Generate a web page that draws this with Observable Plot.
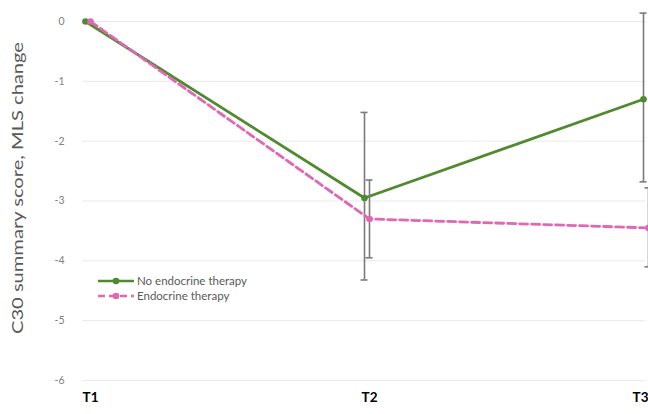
<!DOCTYPE html>
<html>
<head>
<meta charset="utf-8">
<script src="https://cdn.jsdelivr.net/npm/d3@7"></script>
<script src="https://cdn.jsdelivr.net/npm/@observablehq/plot@0.6"></script>
<style>
  html, body { margin: 0; padding: 0; background: #fff; }
  #wrap { position: relative; width: 648px; height: 414px; overflow: hidden; font-family: Lato, "Open Sans", sans-serif; }
  #legend { position: absolute; left: 97px; top: 273px; font-size: 11.5px; color: #595959; line-height: 15px; }
  #legend div { display: flex; align-items: center; white-space: nowrap; }
  #legend svg { margin-right: 2px; }
</style>
</head>
<body>
<div id="wrap"></div>
<script>
const timepoints = ["T1", "T2", "T3"];
const seriesNames = ["No endocrine therapy", "Endocrine therapy"];
const noEndocrine = [0, -2.95, -1.3];
const endocrine = [0, -3.3, -3.45];
const noEndocrineLow = [null, -4.32, -2.68];
const noEndocrineHigh = [null, -1.52, 0.14];
const endocrineLow = [null, -3.95, -4.1];
const endocrineHigh = [null, -2.65, -2.78];
const yTicks = [0, -1, -2, -3, -4, -5, -6];

const colors = ["#4f8a2e", "#e067b3"];
const offsets = [-2, 3];

const rows = [];
[[noEndocrine, noEndocrineLow, noEndocrineHigh], [endocrine, endocrineLow, endocrineHigh]].forEach((s, si) => {
  timepoints.forEach((t, i) => {
    rows.push({series: seriesNames[si], si, t, idx: i + 1, v: s[0][i], lo: s[1][i], hi: s[2][i]});
  });
});
const bars = rows.filter(d => d.lo != null);
const caps = bars.flatMap(d => [{...d, c: d.lo}, {...d, c: d.hi}]);

const xTickStyle = {tickSize: 0, tickPadding: 12, tickFormat: d => timepoints[d - 1], fontWeight: "bold", fontSize: 13.5, fill: "#000", label: null};
const marks = [
  Plot.gridY(yTicks, {stroke: "#e9e9e9", strokeOpacity: 1, strokeWidth: 1, insetLeft: -5}),
  Plot.axisY(yTicks, {tickSize: 0, tickPadding: 23, fill: "#808080", fontSize: 10.5, tickFormat: d => d === 0 ? "0" : "-" + Math.abs(d),
    label: null}),
  Plot.axisX([1, 2], {...xTickStyle, dx: 3}),
  Plot.axisX([3], {...xTickStyle, textAnchor: "end", dx: 3})
];
[0, 1].forEach(si => {
  const data = rows.filter(d => d.si === si);
  const bdata = bars.filter(d => d.si === si);
  const cdata = caps.filter(d => d.si === si);
  marks.push(
    Plot.ruleX(bdata, {x: "idx", y1: "lo", y2: "hi", stroke: "#7a7a7a", strokeWidth: 1.6, dx: offsets[si]}),
    Plot.ruleY(cdata, {y: "c", x1: "idx", x2: "idx", insetLeft: -3.5, insetRight: -3.5, stroke: "#7a7a7a", strokeWidth: 1.6, dx: offsets[si]}),
    Plot.line(data, {x: "idx", y: "v", stroke: colors[si], strokeWidth: 2.8, strokeDasharray: si === 1 ? "8,4" : null, dx: offsets[si]}),
    Plot.dot(data, {x: "idx", y: "v", fill: colors[si], r: 3.3, dx: offsets[si]})
  );
});

const chart = Plot.plot({
  width: 648,
  height: 414,
  marginLeft: 87,
  marginRight: 3,
  marginTop: 21,
  marginBottom: 34,
  style: {fontFamily: "Lato, 'Open Sans', sans-serif", background: "#fff", overflow: "visible"},
  x: {type: "linear", domain: [1, 3], axis: null},
  y: {domain: [-6, 0], axis: null},
  marks
});
const wrap = document.getElementById("wrap");
wrap.appendChild(chart);

// y axis title
const ns = "http://www.w3.org/2000/svg";
const title = document.createElementNS(ns, "text");
title.textContent = "C30 summary score, MLS change";
title.setAttribute("transform", "translate(19,188) rotate(-90)");
title.setAttribute("text-anchor", "middle");
title.setAttribute("dominant-baseline", "middle");
title.setAttribute("fill", "#595959");
title.setAttribute("font-size", "14.5");
title.setAttribute("textLength", "292");
title.setAttribute("lengthAdjust", "spacingAndGlyphs");
chart.appendChild(title);

const legend = document.createElement("div");
legend.id = "legend";
seriesNames.forEach((name, si) => {
  const row = document.createElement("div");
  row.innerHTML = `<svg width="38" height="12"><line x1="1" x2="37" y1="6" y2="6" stroke="${colors[si]}" stroke-width="2.6" ${si === 1 ? 'stroke-dasharray="7,4"' : ''}/><circle cx="19" cy="6" r="3.3" fill="${colors[si]}"/></svg><span>${name}</span>`;
  legend.appendChild(row);
});
wrap.appendChild(legend);
</script>
</body>
</html>
